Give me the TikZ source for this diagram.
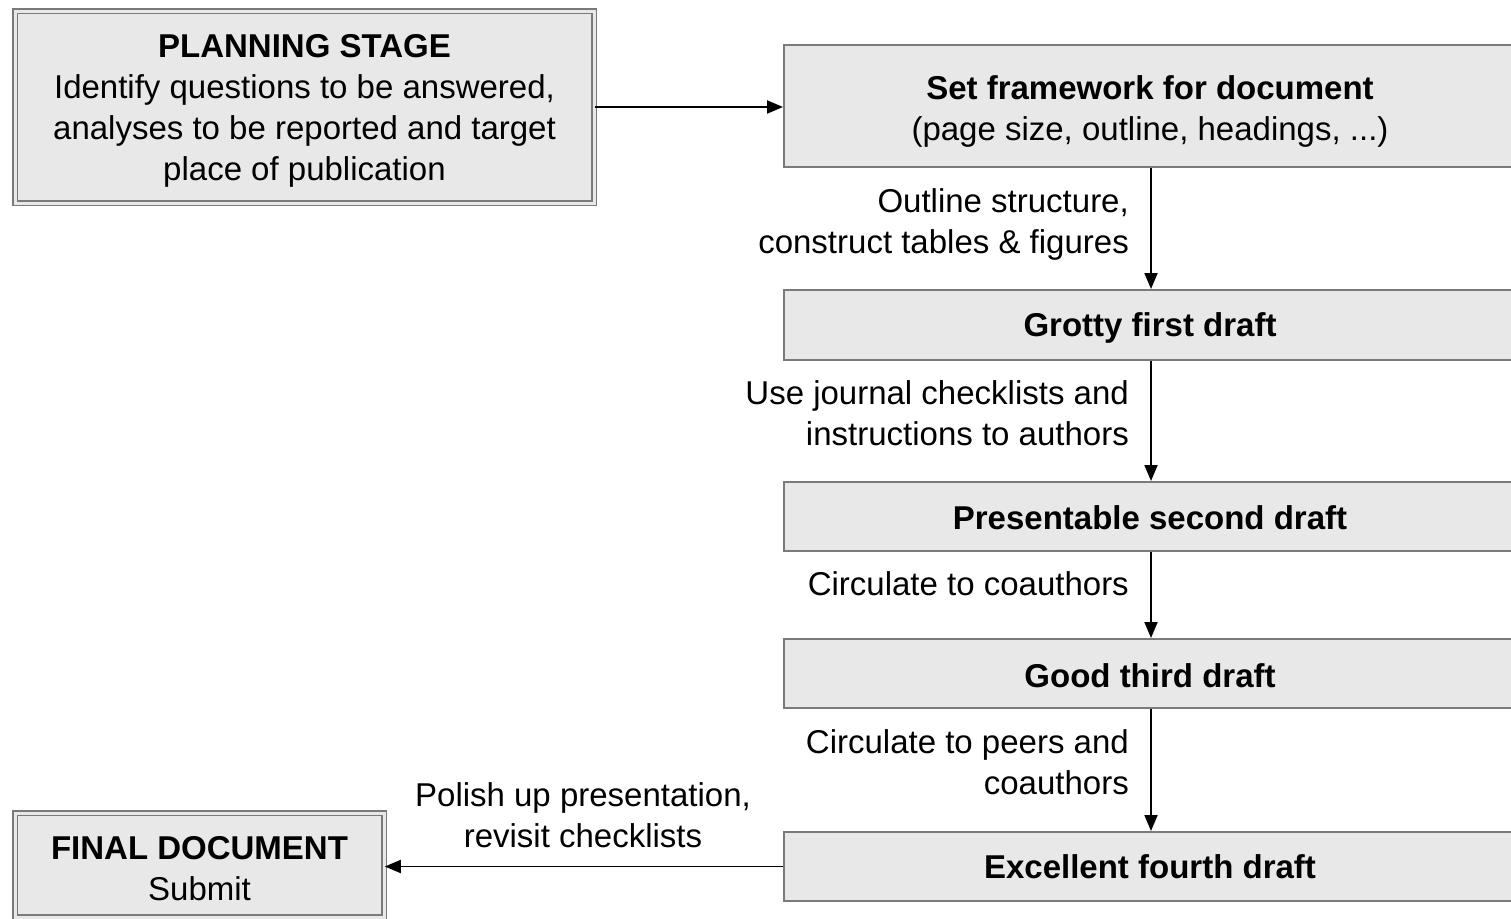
\documentclass[tikz,border=0pt]{standalone}
\usepackage{fontspec}
\setmainfont{Liberation Sans}
\usetikzlibrary{arrows.meta}
\definecolor{boxfill}{HTML}{E8E8E8}
\definecolor{boxline}{HTML}{7A7A7A}
\newcommand{\lowtext}[2]{\raisebox{-#1}[\height][\depth]{\begin{tabular}{@{}c@{}}#2\end{tabular}}}
\begin{document}
\begin{tikzpicture}[x=1pt,y=-1pt,
  every node/.style={font=\fontsize{33}{41}\selectfont, inner sep=0pt},
  flowbox/.style={draw=boxline, line width=2pt, fill=boxfill, align=center},
  dblbox/.style={draw=boxline, line width=1.6pt, double=boxfill, double distance=3pt, fill=boxfill, align=center},
  lbl/.style={align=right, anchor=east},
  conn/.style={line width=1.9pt, -{Triangle[length=16pt,width=13pt]}}]
\useasboundingbox (0,0) rectangle (1511,918);
\clip (0,0) rectangle (1511,918);
\fill[white] (0,0) rectangle (1511,918);

\node[dblbox, minimum width=579pt, minimum height=192pt] (plan) at (304.5,107)
  {\lowtext{4pt}{\textbf{PLANNING STAGE}\\Identify questions to be answered,\\analyses to be reported and target\\place of publication}};
\node[flowbox, minimum width=732pt, minimum height=122pt] (frame) at (1150,106)
  {\lowtext{6pt}{\textbf{Set framework for document}\\(page size, outline, headings, ...)}};
\node[flowbox, minimum width=732pt, minimum height=70pt] (grotty) at (1150,325) {\lowtext{3pt}{\textbf{Grotty first draft}}};
\node[flowbox, minimum width=732pt, minimum height=69pt] (present) at (1150,516.5) {\lowtext{5pt}{\textbf{Presentable second draft}}};
\node[flowbox, minimum width=732pt, minimum height=69pt] (good) at (1150,673.5) {\lowtext{6pt}{\textbf{Good third draft}}};
\node[flowbox, minimum width=732pt, minimum height=69pt] (excel) at (1150,866.5) {\lowtext{4pt}{\textbf{Excellent fourth draft}}};
\node[dblbox, minimum width=369pt, minimum height=104pt] (final) at (199.5,865)
  {\lowtext{7pt}{\textbf{FINAL DOCUMENT}\\Submit}};

\draw[conn] (plan.east |- 0,107) -- (frame.west |- 0,107);
\draw[conn] (frame.south -| 1151,0) -- (grotty.north -| 1151,0);
\draw[conn] (grotty.south -| 1151,0) -- (present.north -| 1151,0);
\draw[conn] (present.south -| 1151,0) -- (good.north -| 1151,0);
\draw[conn] (good.south -| 1151,0) -- (excel.north -| 1151,0);
\draw[conn] (excel.west) -- (final.east |- excel.west);

\node[lbl] (l1) at (1129,224) {Outline structure,\\construct tables \& figures};
\node[lbl] (l2) at (1129,413) {Use journal checklists and\\instructions to authors};
\node[lbl] (l3) at (1129,584) {Circulate to coauthors};
\node[lbl] (l4) at (1129,762) {Circulate to peers and\\coauthors};
\node[align=center] (l5) at (583,815.5) {Polish up presentation,\\revisit checklists};
\end{tikzpicture}
\end{document}
